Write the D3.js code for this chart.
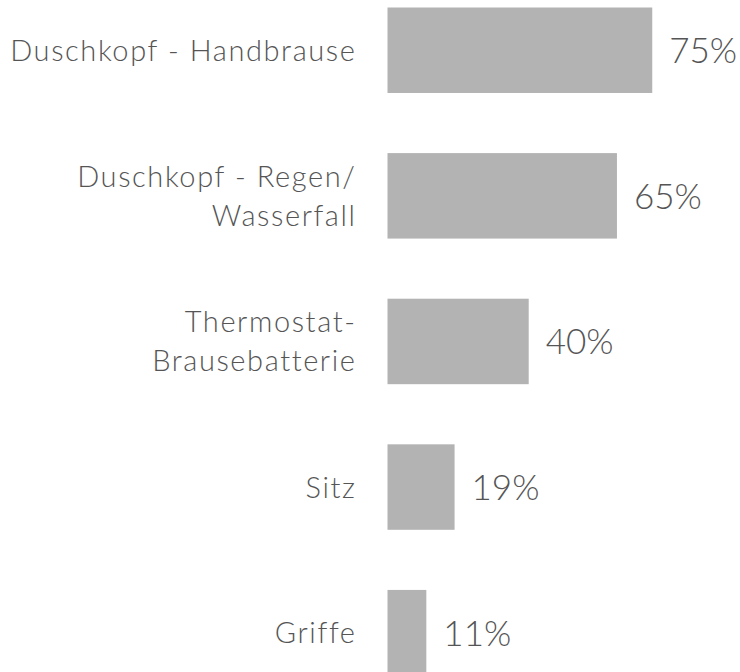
<!DOCTYPE html>
<html>
<head>
<meta charset="utf-8">
<script src="https://cdn.jsdelivr.net/npm/d3@7"></script>
<style>
  body { margin: 0; background: #fff; }
  svg { display: block; }
</style>
</head>
<body>
<svg id="chart" width="740" height="672"></svg>
<script>
// categories, each label split into its lines
const categories = ["Duschkopf - Handbrause", "Duschkopf - Regen/ Wasserfall", "Thermostat- Brausebatterie", "Sitz", "Griffe"]
const labelLines = [
    ["Duschkopf - Handbrause"],
    ["Duschkopf - Regen/", "Wasserfall"],
    ["Thermostat-", "Brausebatterie"],
    ["Sitz"],
    ["Griffe"]
]
const values = [75, 65, 40, 19, 11]

const svg = d3.select("#chart")

const barLeft = 387.5
const xScale = d3.scaleLinear()
    .domain([0, 100])
    .range([barLeft, barLeft + 353])

const yScale = d3.scaleBand()
    .domain(categories)
    .range([7.5, 675.4])
    .paddingInner(0.413)
    .paddingOuter(0)

const rows = categories.map((c, i) => ({ cat: c, lines: labelLines[i], value: values[i] }))

// bars
svg.append("g")
    .selectAll("rect")
    .data(rows)
    .join("rect")
    .attr("x", xScale(0))
    .attr("y", d => yScale(d.cat))
    .attr("width", d => xScale(d.value) - xScale(0))
    .attr("height", yScale.bandwidth())
    .attr("fill", "#b3b3b3")

// category labels (right aligned, left of bars)
const lineH = 39
const labels = svg.append("g")
    .selectAll("text")
    .data(rows)
    .join("text")
    .attr("text-anchor", "end")
    .attr("font-family", "Lato, sans-serif")
    .attr("font-weight", 300)
    .attr("font-size", 29)
    .attr("letter-spacing", 1.6)
    .attr("fill", "#555")

labels.each(function (d) {
    const cy = yScale(d.cat) + yScale.bandwidth() / 2
    const first = cy + 10.5 - (d.lines.length - 1) * lineH / 2
    d3.select(this).selectAll("tspan")
        .data(d.lines)
        .join("tspan")
        .attr("x", barLeft - 31)
        .attr("y", (l, j) => first + j * lineH)
        .text(l => l)
})

// value labels
svg.append("g")
    .selectAll("text")
    .data(rows)
    .join("text")
    .attr("x", d => xScale(d.value) + 17)
    .attr("y", d => yScale(d.cat) + yScale.bandwidth() / 2 + 13)
    .attr("font-family", "Lato, sans-serif")
    .attr("font-weight", 300)
    .attr("font-size", 35)
    .attr("fill", "#555")
    .text(d => d.value + "%")
</script>
</body>
</html>
